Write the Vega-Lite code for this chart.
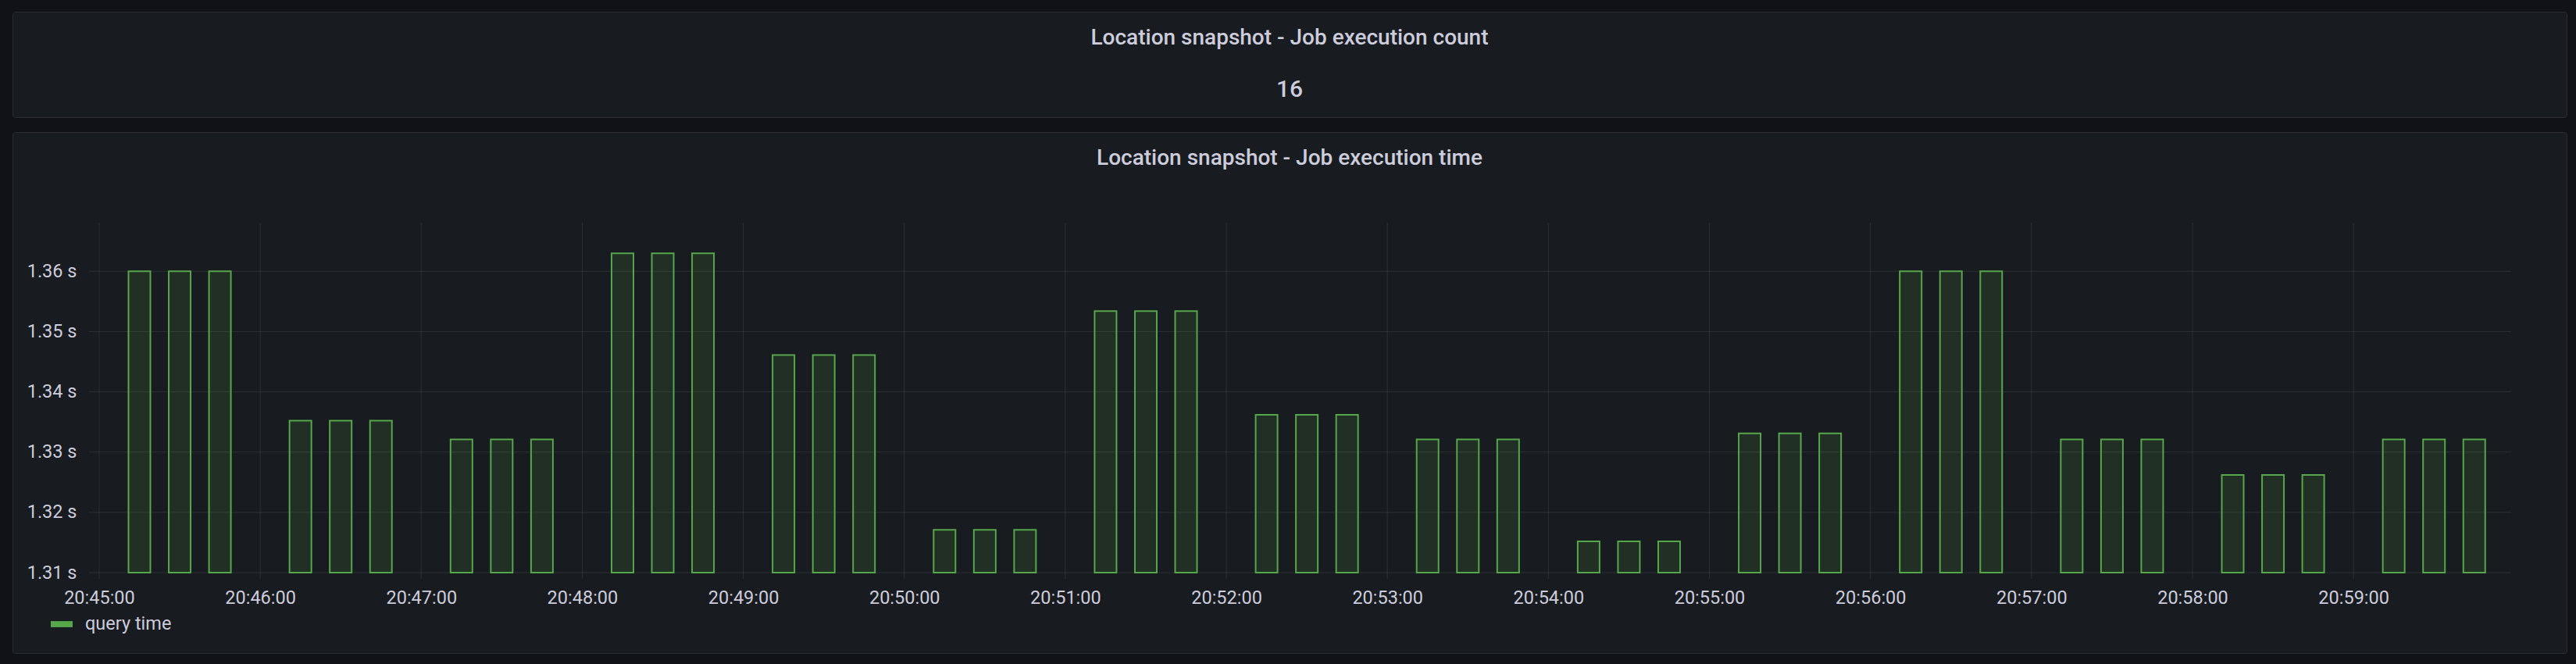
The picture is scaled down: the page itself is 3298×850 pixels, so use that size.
{
  "$schema": "https://vega.github.io/schema/vega-lite/v6.json",
  "background": "#111217",
  "padding": {"left": 15, "top": 14, "right": 13, "bottom": 17},
  "spacing": 17,
  "config": {
    "view": {"fill": "#181b1f", "stroke": "#2a2c30", "strokeWidth": 1, "cornerRadius": 3},
    "font": "Roboto",
    "title": {"color": "#ccccdc", "fontSize": 28, "fontWeight": 500, "font": "Roboto"},
    "axis": {"labelFont": "Roboto", "labelFontSize": 23.5, "labelColor": "#ccccdc", "domain": false, "ticks": false, "tickSize": 0, "grid": false, "title": null, "labelPadding": 0, "labelOverlap": false, "labelFlush": false}
  },
  "datasets": {
    "bars": [
      {"t": "2024-01-01T20:45:15", "v": 1.360}, {"t": "2024-01-01T20:45:30", "v": 1.360}, {"t": "2024-01-01T20:45:45", "v": 1.360},
      {"t": "2024-01-01T20:46:15", "v": 1.3352}, {"t": "2024-01-01T20:46:30", "v": 1.3352}, {"t": "2024-01-01T20:46:45", "v": 1.3352},
      {"t": "2024-01-01T20:47:15", "v": 1.3321}, {"t": "2024-01-01T20:47:30", "v": 1.3321}, {"t": "2024-01-01T20:47:45", "v": 1.3321},
      {"t": "2024-01-01T20:48:15", "v": 1.3630}, {"t": "2024-01-01T20:48:30", "v": 1.3630}, {"t": "2024-01-01T20:48:45", "v": 1.3630},
      {"t": "2024-01-01T20:49:15", "v": 1.3461}, {"t": "2024-01-01T20:49:30", "v": 1.3461}, {"t": "2024-01-01T20:49:45", "v": 1.3461},
      {"t": "2024-01-01T20:50:15", "v": 1.3171}, {"t": "2024-01-01T20:50:30", "v": 1.3171}, {"t": "2024-01-01T20:50:45", "v": 1.3171},
      {"t": "2024-01-01T20:51:15", "v": 1.3534}, {"t": "2024-01-01T20:51:30", "v": 1.3534}, {"t": "2024-01-01T20:51:45", "v": 1.3534},
      {"t": "2024-01-01T20:52:15", "v": 1.3362}, {"t": "2024-01-01T20:52:30", "v": 1.3362}, {"t": "2024-01-01T20:52:45", "v": 1.3362},
      {"t": "2024-01-01T20:53:15", "v": 1.3321}, {"t": "2024-01-01T20:53:30", "v": 1.3321}, {"t": "2024-01-01T20:53:45", "v": 1.3321},
      {"t": "2024-01-01T20:54:15", "v": 1.3152}, {"t": "2024-01-01T20:54:30", "v": 1.3152}, {"t": "2024-01-01T20:54:45", "v": 1.3152},
      {"t": "2024-01-01T20:55:15", "v": 1.3331}, {"t": "2024-01-01T20:55:30", "v": 1.3331}, {"t": "2024-01-01T20:55:45", "v": 1.3331},
      {"t": "2024-01-01T20:56:15", "v": 1.360}, {"t": "2024-01-01T20:56:30", "v": 1.360}, {"t": "2024-01-01T20:56:45", "v": 1.360},
      {"t": "2024-01-01T20:57:15", "v": 1.3321}, {"t": "2024-01-01T20:57:30", "v": 1.3321}, {"t": "2024-01-01T20:57:45", "v": 1.3321},
      {"t": "2024-01-01T20:58:15", "v": 1.3262}, {"t": "2024-01-01T20:58:30", "v": 1.3262}, {"t": "2024-01-01T20:58:45", "v": 1.3262},
      {"t": "2024-01-01T20:59:15", "v": 1.3321}, {"t": "2024-01-01T20:59:30", "v": 1.3321}, {"t": "2024-01-01T20:59:45", "v": 1.3321}
    ],
    "vgrid": [
      {"t": "2024-01-01T20:45:00"}, {"t": "2024-01-01T20:46:00"}, {"t": "2024-01-01T20:47:00"}, {"t": "2024-01-01T20:48:00"},
      {"t": "2024-01-01T20:49:00"}, {"t": "2024-01-01T20:50:00"}, {"t": "2024-01-01T20:51:00"}, {"t": "2024-01-01T20:52:00"},
      {"t": "2024-01-01T20:53:00"}, {"t": "2024-01-01T20:54:00"}, {"t": "2024-01-01T20:55:00"}, {"t": "2024-01-01T20:56:00"},
      {"t": "2024-01-01T20:57:00"}, {"t": "2024-01-01T20:58:00"}, {"t": "2024-01-01T20:59:00"}
    ],
    "hgrid": [
      {"v": 1.31}, {"v": 1.32}, {"v": 1.33}, {"v": 1.34}, {"v": 1.35}, {"v": 1.36}
    ],
    "stat": [
      {"stat": "Job execution count", "value": 16}
    ]
  },
  "vconcat": [
    {
      "width": 3270,
      "height": 135,
      "title": {"text": "Location snapshot - Job execution count", "anchor": "middle", "frame": "group", "offset": -62, "baseline": "middle"},
      "data": {"name": "stat"},
      "mark": {"type": "text", "fontSize": 30, "fontWeight": 500, "color": "#ccccdc", "baseline": "middle", "dy": 32, "font": "Roboto"},
      "encoding": {
        "x": {"datum": 0.5, "type": "quantitative", "scale": {"domain": [0, 1]}, "axis": null},
        "y": {"datum": 0.5, "type": "quantitative", "scale": {"domain": [0, 1]}, "axis": null},
        "text": {"field": "value", "type": "quantitative"}
      }
    },
    {
      "width": 3270,
      "height": 667,
      "title": {"text": "Location snapshot - Job execution time", "anchor": "middle", "frame": "group", "offset": -62, "baseline": "middle"},
      "layer": [
        {
          "data": {"name": "hgrid"},
          "mark": {"type": "rule", "color": "rgba(240,250,255,0.09)", "strokeWidth": 1},
          "encoding": {
            "y": {"field": "v", "type": "quantitative",
              "scale": {"domain": [1.296648, 1.383114], "zero": false, "nice": false},
              "axis": {"orient": "left", "offset": -82, "values": [1.31, 1.32, 1.33, 1.34, 1.35, 1.36], "labelExpr": "format(datum.value, '.2f') + ' s'", "labelAlign": "right", "labelBaseline": "middle"}},
            "x": {"datum": {"year": 2024, "month": 1, "date": 1, "hours": 20, "minutes": 44, "seconds": 56, "milliseconds": 100}, "type": "temporal",
              "scale": {"domain": [{"year": 2024, "month": 1, "date": 1, "hours": 20, "minutes": 44, "seconds": 29, "milliseconds": 160}, {"year": 2024, "month": 1, "date": 1, "hours": 21, "minutes": 0, "seconds": 17, "milliseconds": 960}]},
              "axis": {"orient": "bottom", "offset": -71, "format": "%H:%M:%S", "labelBaseline": "middle",
                "values": [
                  {"year": 2024, "month": 1, "date": 1, "hours": 20, "minutes": 45}, {"year": 2024, "month": 1, "date": 1, "hours": 20, "minutes": 46},
                  {"year": 2024, "month": 1, "date": 1, "hours": 20, "minutes": 47}, {"year": 2024, "month": 1, "date": 1, "hours": 20, "minutes": 48},
                  {"year": 2024, "month": 1, "date": 1, "hours": 20, "minutes": 49}, {"year": 2024, "month": 1, "date": 1, "hours": 20, "minutes": 50},
                  {"year": 2024, "month": 1, "date": 1, "hours": 20, "minutes": 51}, {"year": 2024, "month": 1, "date": 1, "hours": 20, "minutes": 52},
                  {"year": 2024, "month": 1, "date": 1, "hours": 20, "minutes": 53}, {"year": 2024, "month": 1, "date": 1, "hours": 20, "minutes": 54},
                  {"year": 2024, "month": 1, "date": 1, "hours": 20, "minutes": 55}, {"year": 2024, "month": 1, "date": 1, "hours": 20, "minutes": 56},
                  {"year": 2024, "month": 1, "date": 1, "hours": 20, "minutes": 57}, {"year": 2024, "month": 1, "date": 1, "hours": 20, "minutes": 58},
                  {"year": 2024, "month": 1, "date": 1, "hours": 20, "minutes": 59}
                ]}},
            "x2": {"datum": {"year": 2024, "month": 1, "date": 1, "hours": 20, "minutes": 59, "seconds": 58, "milliseconds": 800}}
          }
        },
        {
          "data": {"name": "vgrid"},
          "mark": {"type": "rule", "color": "rgba(240,250,255,0.09)", "strokeWidth": 1},
          "encoding": {
            "x": {"field": "t", "type": "temporal",
              "scale": {"domain": [{"year": 2024, "month": 1, "date": 1, "hours": 20, "minutes": 44, "seconds": 29, "milliseconds": 160}, {"year": 2024, "month": 1, "date": 1, "hours": 21, "minutes": 0, "seconds": 17, "milliseconds": 960}]}},
            "y": {"datum": 1.30896, "type": "quantitative", "scale": {"domain": [1.296648, 1.383114], "zero": false, "nice": false}},
            "y2": {"datum": 1.36808}
          }
        },
        {
          "data": {"name": "bars"},
          "mark": {"type": "bar", "width": 28, "fillOpacity": 0.15, "stroke": "#56a64b", "strokeWidth": 2},
          "encoding": {
            "x": {"field": "t", "type": "temporal",
              "scale": {"domain": [{"year": 2024, "month": 1, "date": 1, "hours": 20, "minutes": 44, "seconds": 29, "milliseconds": 160}, {"year": 2024, "month": 1, "date": 1, "hours": 21, "minutes": 0, "seconds": 17, "milliseconds": 960}]}},
            "y": {"field": "v", "type": "quantitative", "scale": {"domain": [1.296648, 1.383114], "zero": false, "nice": false}},
            "y2": {"datum": 1.31},
            "color": {"datum": "query time", "type": "nominal", "scale": {"range": ["#56a64b"]},
              "legend": {"orient": "none", "legendX": 49, "legendY": 770, "title": null, "padding": 0,
                "symbolType": "M-1,-0.28L1,-0.28L1,0.28L-1,0.28Z", "symbolSize": 784, "symbolStrokeWidth": 0, "symbolOpacity": 1,
                "labelFont": "Roboto", "labelFontSize": 23.5, "labelColor": "#ccccdc", "labelOffset": 16,
                "encode": {"symbols": {"update": {"fill": {"value": "#56a64b"}, "fillOpacity": {"value": 1}, "strokeWidth": {"value": 0}}}}}}
          }
        }
      ]
    }
  ]
}
